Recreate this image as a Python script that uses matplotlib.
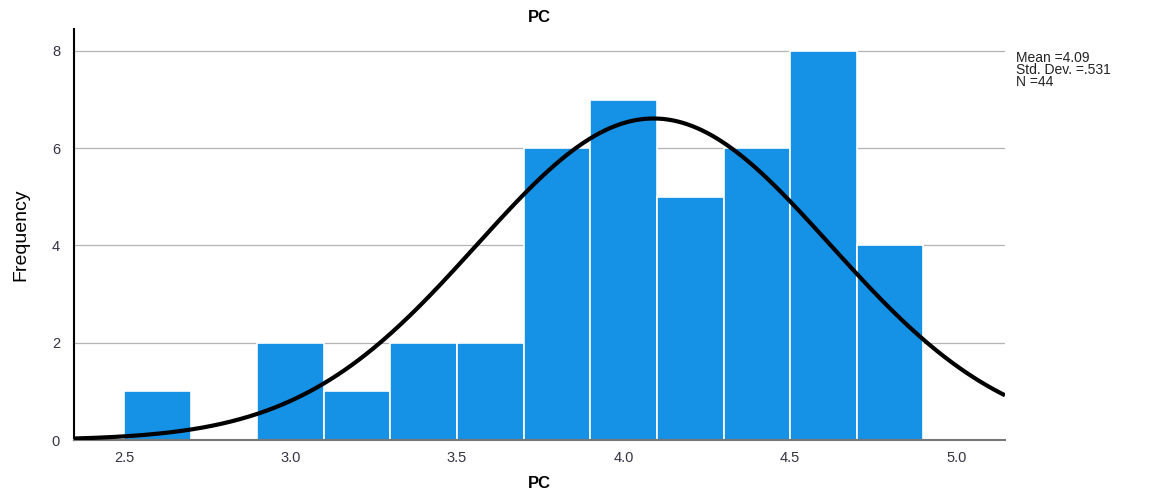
import numpy as np
import matplotlib.pyplot as plt

plt.rcParams['font.family'] = ['Liberation Sans', 'DejaVu Sans']

# histogram bins and counts
bin_edges = [2.5, 2.7, 2.9, 3.1, 3.3, 3.5, 3.7, 3.9, 4.1, 4.3, 4.5, 4.7, 4.9]
counts = [1, 0, 2, 1, 2, 2, 6, 7, 5, 6, 8, 4]
mean = 4.09
sd = 0.531
n = 44
bin_w = 0.2

fig = plt.figure(figsize=(11.52, 4.93), dpi=100)
ax = fig.add_axes([0.0642, 0.1075, 0.8082, 0.8335])

for y in [2, 4, 6, 8]:
    ax.axhline(y, color='#b4b4b4', lw=0.9, zorder=0)

lefts = np.array(bin_edges[:-1])
ax.bar(lefts, counts, width=bin_w, align='edge', color='#1591e6',
       edgecolor='white', linewidth=1.2, zorder=2)

xs = np.linspace(2.35, 5.145, 400)
ys = n * bin_w / (sd * np.sqrt(2 * np.pi)) * np.exp(-0.5 * ((xs - mean) / sd) ** 2)
ax.plot(xs, ys, color='black', lw=3, zorder=3, solid_capstyle='butt')

ax.set_xlim(2.35, 5.145)
ax.set_ylim(0, 8.45)
ax.set_xticks([2.5, 3.0, 3.5, 4.0, 4.5, 5.0])
ax.set_xticklabels(['2.5', '3.0', '3.5', '4.0', '4.5', '5.0'])
ax.set_yticks([0, 2, 4, 6, 8])
ax.tick_params(length=0, labelsize=10.5, colors='#333344', pad=8)
ax.tick_params(axis='y', pad=10)

for s in ['top', 'right']:
    ax.spines[s].set_visible(False)
ax.spines['left'].set_color('black')
ax.spines['left'].set_linewidth(1.5)
ax.spines['bottom'].set_color('#777777')
ax.spines['bottom'].set_linewidth(1.5)

# title and x label placed in figure coords
fig.text(0.4683, 0.965, 'PC', fontsize=12, fontweight='bold', ha='center', va='center')
fig.text(0.4683, 0.02, 'PC', fontsize=12, fontweight='bold', ha='center', va='center')
ax.set_ylabel('Frequency', fontsize=14,
              family=['Liberation Sans Narrow', 'Liberation Sans', 'DejaVu Sans'],
              labelpad=16)

fig.text(0.882, 0.897, 'Mean =4.09\nStd. Dev. =.531\nN =44', fontsize=10,
         va='top', ha='left', linespacing=0.82, color='#222222')

fig.savefig('out.png', dpi=100)
